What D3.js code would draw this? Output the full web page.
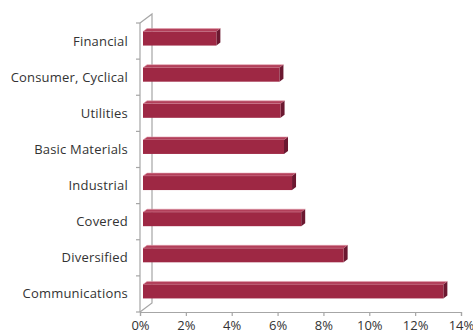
<!DOCTYPE html>
<html>
<head>
<meta charset="utf-8">
<script src="https://cdn.jsdelivr.net/npm/d3@7"></script>
<style>
  body { margin: 0; background: #fff; }
  text { font-family: "Open Sans", sans-serif; fill: #333; }
</style>
</head>
<body>
<div id="chart-container"></div>
<script>
// data (percent of total)
let categories = ["Financial", "Consumer, Cyclical", "Utilities", "Basic Materials",
                  "Industrial", "Covered", "Diversified", "Communications"];
let values = [3.2, 5.95, 6.0, 6.15, 6.5, 6.9, 8.75, 13.1];
let xTicks = [0, 2, 4, 6, 8, 10, 12, 14];

let width = 473, height = 334;
let plotLeft = 140, plotRight = 461, plotTop = 23, plotBottom = 312;
let wall = {dx: 12, dy: -9};       // depth of the 3d back wall
let barOff = {dx: 3, dy: -2.5};    // front face of the bars
let barDepth = {dx: 4, dy: -3};    // thickness of the bars

let svg = d3.select("#chart-container")
    .append("svg")
    .attr("width", width)
    .attr("height", height);

let x = d3.scaleLinear().domain([0, 14]).range([plotLeft, plotRight]);
let y = d3.scaleBand().domain(categories).range([plotTop, plotBottom]);

let axisColor = "#a6a6a6";

// back wall outline
svg.append("path")
    .attr("d", "M" + plotLeft + "," + plotTop + "L" + (plotLeft + wall.dx) + "," + (plotTop + wall.dy) +
        "L" + (plotLeft + wall.dx) + "," + (plotBottom + wall.dy) + "L" + plotLeft + "," + plotBottom)
    .attr("fill", "none")
    .attr("stroke", axisColor)
    .attr("stroke-width", 1.2);

// left axis
svg.append("line")
    .attr("x1", plotLeft).attr("x2", plotLeft)
    .attr("y1", plotTop).attr("y2", plotBottom)
    .attr("stroke", axisColor).attr("stroke-width", 1.2);

let boundaries = categories.map(c => y(c)).concat([plotBottom]);
svg.selectAll("line.ytick")
    .data(boundaries)
    .enter()
    .append("line")
    .attr("class", "ytick")
    .attr("x1", plotLeft - 4).attr("x2", plotLeft)
    .attr("y1", d => d).attr("y2", d => d)
    .attr("stroke", axisColor).attr("stroke-width", 1.2);

svg.selectAll("text.ylabel")
    .data(categories)
    .enter()
    .append("text")
    .attr("class", "ylabel")
    .attr("x", 128)
    .attr("y", d => y(d) + y.bandwidth() / 2)
    .attr("dy", "0.35em")
    .style("text-anchor", "end")
    .style("font-size", "13px")
    .style("letter-spacing", "0.2px")
    .text(d => d);

// bottom axis
let xAxis = d3.axisBottom(x)
    .tickValues(xTicks)
    .tickSize(4)
    .tickFormat(d => d + "%");
let gx = svg.append("g")
    .attr("transform", "translate(0," + plotBottom + ")")
    .call(xAxis);
gx.select(".domain").attr("stroke", axisColor).attr("stroke-width", 1.2);
gx.selectAll(".tick line").attr("stroke", axisColor).attr("stroke-width", 1.2);
gx.selectAll(".tick text")
    .attr("y", 9)
    .style("font-size", "13px")
    .style("font-family", "'Open Sans', sans-serif")
    .attr("fill", "#333");

// 3d bars
let barH = 14;
let bars = svg.selectAll("g.bar")
    .data(categories.map((c, i) => ({name: c, value: values[i]})))
    .enter()
    .append("g")
    .attr("class", "bar");

function faceFront(d) {
    let x0 = x(0) + barOff.dx, x1 = x(d.value) + barOff.dx;
    let y0 = y(d.name) + (y.bandwidth() - barH) / 2 + barOff.dy, y1 = y0 + barH;
    return {x0, x1, y0, y1};
}

bars.append("path")
    .attr("d", d => {
        let f = faceFront(d);
        return "M" + f.x0 + "," + f.y0 + "L" + (f.x0 + barDepth.dx) + "," + (f.y0 + barDepth.dy) +
            "L" + (f.x1 + barDepth.dx) + "," + (f.y0 + barDepth.dy) + "L" + f.x1 + "," + f.y0 + "Z";
    })
    .attr("fill", "#b23f5a")
    .attr("stroke", "#e3a0ae")
    .attr("stroke-width", 0.6);

bars.append("path")
    .attr("d", d => {
        let f = faceFront(d);
        return "M" + f.x1 + "," + f.y0 + "L" + (f.x1 + barDepth.dx) + "," + (f.y0 + barDepth.dy) +
            "L" + (f.x1 + barDepth.dx) + "," + (f.y1 + barDepth.dy) + "L" + f.x1 + "," + f.y1 + "Z";
    })
    .attr("fill", "#6b1830");

bars.append("rect")
    .attr("x", d => faceFront(d).x0)
    .attr("y", d => faceFront(d).y0)
    .attr("width", d => faceFront(d).x1 - faceFront(d).x0)
    .attr("height", barH)
    .attr("fill", "#9e2844");
</script>
</body>
</html>
